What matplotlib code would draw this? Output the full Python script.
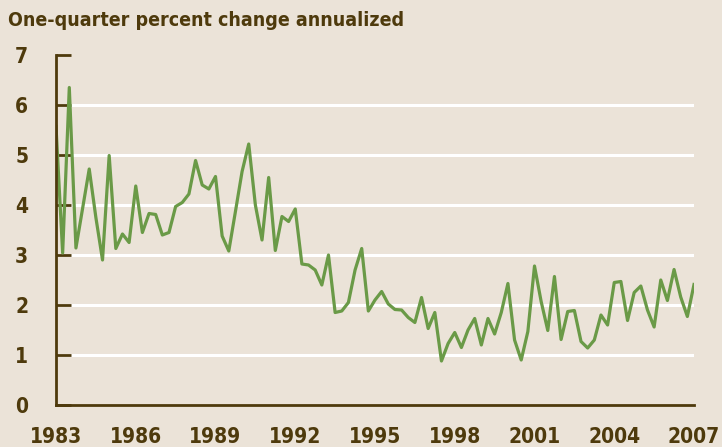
import numpy as np
import matplotlib
matplotlib.use('Agg')
import matplotlib.pyplot as plt

# quarterly values, 1983Q1 .. 2007Q1
values = [5.57, 3.04, 6.35, 3.14, 3.93, 4.72, 3.75, 2.90, 4.99, 3.13,
          3.42, 3.25, 4.38, 3.45, 3.83, 3.81, 3.40, 3.45, 3.97, 4.05,
          4.22, 4.89, 4.40, 4.32, 4.57, 3.38, 3.08, 3.87, 4.67, 5.22,
          4.00, 3.30, 4.55, 3.09, 3.77, 3.67, 3.92, 2.82, 2.80, 2.70,
          2.40, 3.00, 1.85, 1.88, 2.05, 2.70, 3.13, 1.88, 2.10, 2.27,
          2.02, 1.91, 1.90, 1.75, 1.65, 2.15, 1.53, 1.85, 0.88, 1.23,
          1.45, 1.15, 1.50, 1.73, 1.20, 1.73, 1.42, 1.85, 2.43, 1.30,
          0.90, 1.47, 2.78, 2.07, 1.49, 2.57, 1.31, 1.87, 1.89, 1.27,
          1.14, 1.30, 1.80, 1.60, 2.45, 2.47, 1.69, 2.25, 2.38, 1.90,
          1.56, 2.50, 2.09, 2.71, 2.16, 1.77, 2.41]
start_year = 1983
year_ticks = [1983, 1986, 1989, 1992, 1995, 1998, 2001, 2004, 2007]
y_ticks = [0, 1, 2, 3, 4, 5, 6, 7]
grid_levels = [1, 2, 3, 4, 5, 6]

bg = '#ebe3d8'
brown = '#4e3a0c'
green = '#6a9a47'
font = ['DejaVu Sans']
stretch = 'condensed'

t = start_year + np.arange(len(values)) / 4.0

fig = plt.figure(figsize=(7.22, 4.47), dpi=100, facecolor=bg)
ax = fig.add_axes([56/722, 42/447, 638/722, 350/447], facecolor=bg)

for g in grid_levels:
    ax.axhline(g, color='white', lw=2.2, zorder=1)

ax.plot(t, values, color=green, lw=2.3, zorder=3)

ax.set_xlim(1983, 2007)
ax.set_ylim(0, 7)
for s in ['top', 'right']:
    ax.spines[s].set_visible(False)
for s in ['left', 'bottom']:
    ax.spines[s].set_color(brown)
    ax.spines[s].set_linewidth(2)
    ax.spines[s].set_zorder(4)

ax.set_yticks(y_ticks)
ax.set_yticklabels([str(v) for v in y_ticks])
ax.tick_params(axis='y', direction='in', length=11, width=2, color=brown,
               pad=20, labelcolor=brown)

ax.set_xticks(year_ticks)
ax.set_xticklabels([str(v) for v in year_ticks])
ax.set_xticks(year_ticks[1:-1], minor=True)
ax.tick_params(axis='x', which='major', length=0, pad=16, labelcolor=brown)
ax.tick_params(axis='x', which='minor', direction='in', length=10, width=2,
               color=brown)

for lab in ax.get_xticklabels() + ax.get_yticklabels():
    lab.set_family(font)
    lab.set_stretch(stretch)
    lab.set_fontweight('bold')
    lab.set_fontsize(15)

fig.text(8/722, 1 - 20/447, 'One-quarter percent change annualized',
         family=font, stretch=stretch, fontweight='bold', fontsize=14,
         color=brown, ha='left', va='center')

fig.savefig('out.png', dpi=100, facecolor=bg)
